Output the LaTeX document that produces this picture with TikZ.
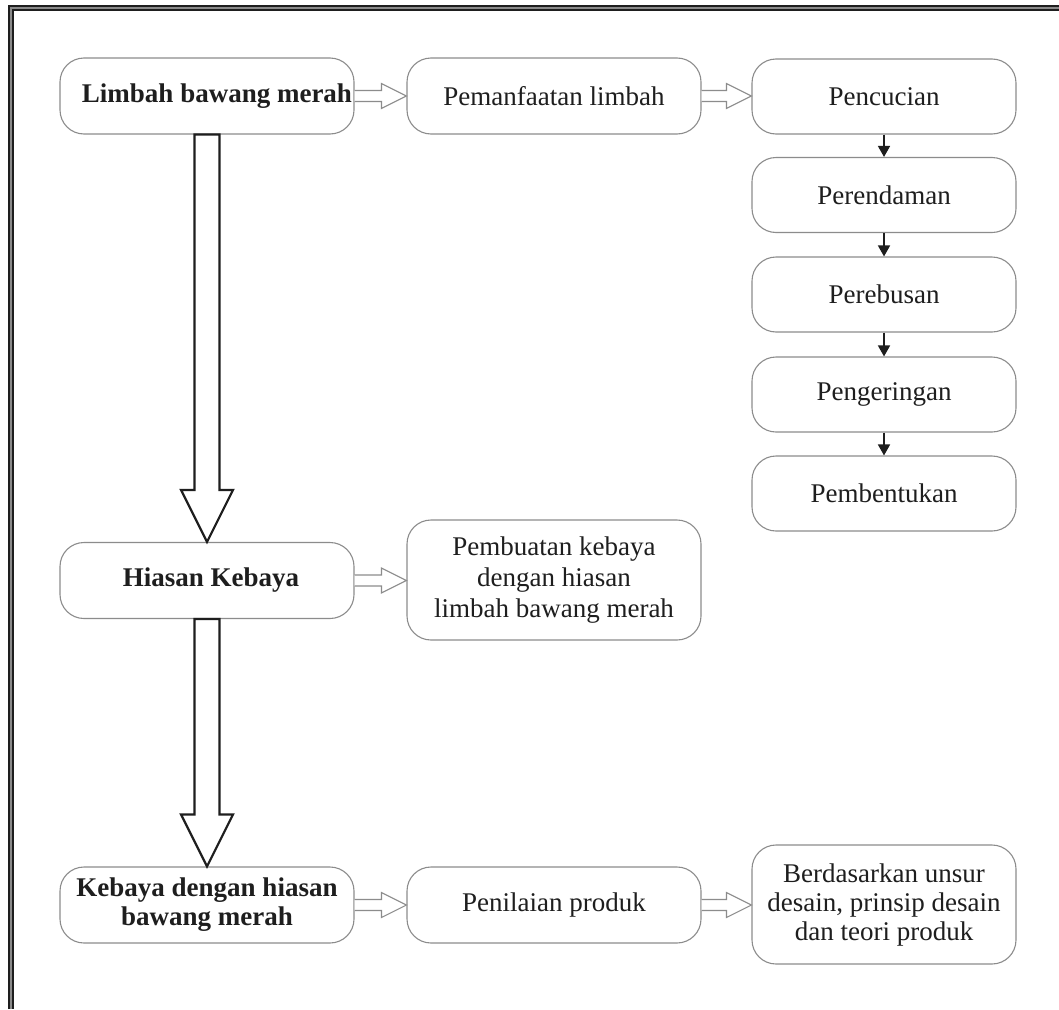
\documentclass[tikz,border=0pt]{standalone}
\usepackage{fontspec}
\setmainfont{Liberation Serif}
\usetikzlibrary{arrows.meta,calc}
\definecolor{boxline}{HTML}{8C8C8C}
\definecolor{ink}{HTML}{1E1E1E}
\definecolor{framegray}{HTML}{8A8A8A}

\tikzset{
  stepbox/.style={draw=boxline, line width=1.1pt, rounded corners=24pt,
    minimum width=294pt, minimum height=76pt, align=center, inner sep=0pt,
    font=\fontsize{27}{29}\selectfont, text=ink},
  sidebox/.style={stepbox, minimum width=264pt, minimum height=75pt},
  keybox/.style={stepbox, font=\fontsize{27}{29}\selectfont\bfseries},
  bigarrow/.style={draw=ink, line width=2.2pt, fill=white, line join=miter},
  smallarrow/.style={draw=boxline, line width=1.1pt, fill=white, line join=miter},
  flowarrow/.style={draw=ink, line width=1.6pt, -{Triangle[length=11pt,width=12pt]}},
}

% wide hollow arrow pointing down between two nodes
\newcommand\hollowdown[2]{%
  \draw[bigarrow] let \p1=(#1.south), \p2=(#2.north) in
    (\x1-12.5pt,\y1) -- (\x1-12.5pt,\y2+52pt) -- (\x1-26pt,\y2+52pt)
    -- (\x1,\y2) -- (\x1+26pt,\y2+52pt) -- (\x1+12.5pt,\y2+52pt)
    -- (\x1+12.5pt,\y1) -- cycle;}
% small hollow arrow pointing right between two nodes
\newcommand\hollowright[2]{%
  \draw[smallarrow] let \p1=(#1.east), \p2=(#2.west) in
    (\x1,\y1+5.5pt) -- (\x2-25pt,\y1+5.5pt) -- (\x2-25pt,\y1+12.5pt)
    -- (\x2,\y1) -- (\x2-25pt,\y1-12.5pt) -- (\x2-25pt,\y1-5.5pt)
    -- (\x1,\y1-5.5pt);}

\begin{document}
\begin{tikzpicture}[x=1pt, y=-1pt]
\useasboundingbox (0,0) rectangle (1059,1009);
\fill[white] (0,0) rectangle (1059,1009);

% double frame along the top and left edges
\draw[ink, line width=6pt] (11,1009) -- (11,8) -- (1059,8);
\draw[framegray, line width=1.5pt] (11,1009) -- (11,8) -- (1059,8);

% left column
\node[keybox] (lbm) at (207,96) {\hspace*{20pt}Limbah bawang merah};
\node[keybox] (hk)  at (207,580.5) {\hspace*{8pt}Hiasan Kebaya};
\node[keybox] (kdh) at (207,905) {Kebaya dengan hiasan\\bawang merah};

% middle column
\node[stepbox] (pl) at (554,96) {Pemanfaatan limbah};
\node[stepbox, minimum height=120pt] (pk) at (554,580) {Pembuatan kebaya\\[2pt]dengan hiasan\\[2pt]limbah bawang merah};
\node[stepbox] (pp) at (554,905) {Penilaian produk};

% right column: processing steps
\node[sidebox] (s1) at (884,96.5)  {Pencucian};
\node[sidebox] (s2) at (884,195)   {Perendaman};
\node[sidebox] (s3) at (884,294.5) {Perebusan};
\node[sidebox] (s4) at (884,394.5) {Pengeringan};
\node[sidebox] (s5) at (884,493.5) {Pembentukan};
\node[sidebox, minimum height=119pt] (bd) at (884,904.5) {Berdasarkan unsur\\desain, prinsip desain\\dan teori produk};

% connectors
\hollowdown{lbm}{hk}
\hollowdown{hk}{kdh}
\hollowright{lbm}{pl}
\hollowright{pl}{s1}
\hollowright{hk}{pk}
\hollowright{kdh}{pp}
\hollowright{pp}{bd}
\draw[flowarrow] (s1) -- (s2);
\draw[flowarrow] (s2) -- (s3);
\draw[flowarrow] (s3) -- (s4);
\draw[flowarrow] (s4) -- (s5);
\end{tikzpicture}
\end{document}
